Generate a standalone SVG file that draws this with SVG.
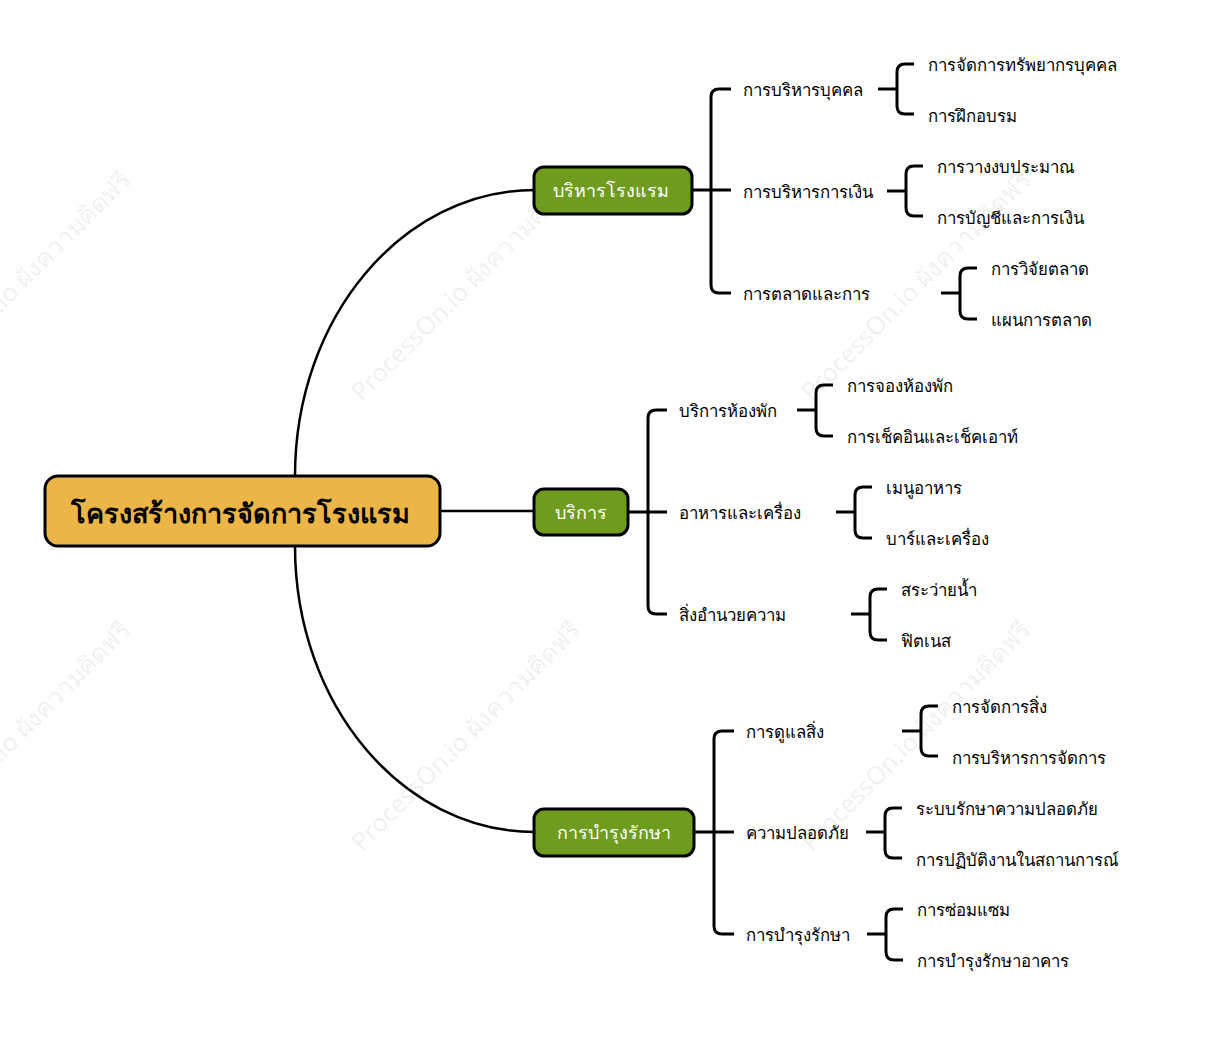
<svg xmlns="http://www.w3.org/2000/svg" width="1227" height="1038" viewBox="0 0 1227 1038">
<style>
.wm{font-family:"Noto Sans","DejaVu Sans",sans-serif;font-size:25px;fill:#000;fill-opacity:0.07;text-anchor:middle;dominant-baseline:central}
.c{fill:none;stroke:#000;stroke-width:3;stroke-linecap:butt;stroke-linejoin:round}
.cv{fill:none;stroke:#000;stroke-width:2.5}
.t{font-family:"Noto Sans","DejaVu Sans",sans-serif;font-size:16.8px;fill:#000;dominant-baseline:central}
.l1 rect{fill:#6f9b1e;stroke:#000;stroke-width:3}
.l1 text{font-family:"Noto Sans","DejaVu Sans",sans-serif;font-size:18px;fill:#fff;text-anchor:middle;dominant-baseline:central}
.root rect{fill:#ebb547;stroke:#000;stroke-width:3}
.root text{font-family:"Noto Sans","DejaVu Sans",sans-serif;font-size:27px;font-weight:bold;fill:#000;text-anchor:middle;dominant-baseline:central}
</style>
<rect width="1227" height="1038" fill="#fff"/>
<g id="watermarks">
<text class="wm" transform="translate(15,285) rotate(-45)">ProcessOn.io ผังความคิดฟรี</text>
<text class="wm" transform="translate(465,285) rotate(-45)">ProcessOn.io ผังความคิดฟรี</text>
<text class="wm" transform="translate(915,285) rotate(-45)">ProcessOn.io ผังความคิดฟรี</text>
<text class="wm" transform="translate(15,735) rotate(-45)">ProcessOn.io ผังความคิดฟรี</text>
<text class="wm" transform="translate(465,735) rotate(-45)">ProcessOn.io ผังความคิดฟรี</text>
<text class="wm" transform="translate(915,735) rotate(-45)">ProcessOn.io ผังความคิดฟรี</text>
</g>
<g id="connectors">
<path class="cv" d="M295,476 C295,318 402,190 535,190"/>
<path class="cv" d="M295,546 C295,704 402,832 535,832"/>
<path class="cv" d="M440,511 H535"/>
<path class="c" d="M692,190 H731"/>
<path class="c" d="M731,89 H719 Q711,89 711,97 V285 Q711,293 719,293 H731"/>
<path class="c" d="M878,89 H897"/>
<path class="c" d="M914,64 H905 Q897,64 897,72 V106 Q897,114 905,114 H914"/>
<path class="c" d="M887,191 H906"/>
<path class="c" d="M923,166 H914 Q906,166 906,174 V208 Q906,216 914,216 H923"/>
<path class="c" d="M941,293 H960"/>
<path class="c" d="M977,268 H968 Q960,268 960,276 V311 Q960,319 968,319 H977"/>
<path class="c" d="M628,512 H667"/>
<path class="c" d="M667,410 H656 Q648,410 648,418 V606 Q648,614 656,614 H667"/>
<path class="c" d="M797,410 H816"/>
<path class="c" d="M833,385 H824 Q816,385 816,393 V428 Q816,436 824,436 H833"/>
<path class="c" d="M836,512 H855"/>
<path class="c" d="M872,487 H863 Q855,487 855,495 V530 Q855,538 863,538 H872"/>
<path class="c" d="M851,614 H870"/>
<path class="c" d="M887,589 H878 Q870,589 870,597 V632 Q870,640 878,640 H887"/>
<path class="c" d="M694,832 H734"/>
<path class="c" d="M734,731 H722 Q714,731 714,739 V926 Q714,934 722,934 H734"/>
<path class="c" d="M902,731 H921"/>
<path class="c" d="M938,706 H929 Q921,706 921,714 V748 Q921,756 929,756 H938"/>
<path class="c" d="M866,832 H885"/>
<path class="c" d="M902,808 H893 Q885,808 885,816 V850 Q885,858 893,858 H902"/>
<path class="c" d="M867,934 H886"/>
<path class="c" d="M903,909 H894 Q886,909 886,917 V952 Q886,960 894,960 H903"/>
</g>
<g id="root" class="root"><rect x="45" y="476" width="395" height="70" rx="13"/><text x="240" y="512">โครงสร้างการจัดการโรงแรม</text></g>
<g id="n-hotel" class="l1"><rect x="534" y="167" width="158" height="47" rx="10"/><text x="611" y="190">บริหารโรงแรม</text></g>
<g id="n-service" class="l1"><rect x="534" y="489" width="94" height="46" rx="10"/><text x="581" y="512">บริการ</text></g>
<g id="n-maint" class="l1"><rect x="534" y="809" width="160" height="47" rx="10"/><text x="614" y="832">การบำรุงรักษา</text></g>
<g id="n-a1"><text class="t" x="743" y="89">การบริหารบุคคล</text></g>
<g id="n-a1a"><text class="t" x="928" y="64">การจัดการทรัพยากรบุคคล</text></g>
<g id="n-a1b"><text class="t" x="928" y="115">การฝึกอบรม</text></g>
<g id="n-a2"><text class="t" x="743" y="191">การบริหารการเงิน</text></g>
<g id="n-a2a"><text class="t" x="937" y="166">การวางงบประมาณ</text></g>
<g id="n-a2b"><text class="t" x="937" y="217">การบัญชีและการเงิน</text></g>
<g id="n-a3"><text class="t" x="743" y="293">การตลาดและการ</text></g>
<g id="n-a3a"><text class="t" x="991" y="268">การวิจัยตลาด</text></g>
<g id="n-a3b"><text class="t" x="991" y="319">แผนการตลาด</text></g>
<g id="n-b1"><text class="t" x="679" y="410">บริการห้องพัก</text></g>
<g id="n-b1a"><text class="t" x="847" y="385">การจองห้องพัก</text></g>
<g id="n-b1b"><text class="t" x="847" y="436">การเช็คอินและเช็คเอาท์</text></g>
<g id="n-b2"><text class="t" x="679" y="512">อาหารและเครื่อง</text></g>
<g id="n-b2a"><text class="t" x="886" y="487">เมนูอาหาร</text></g>
<g id="n-b2b"><text class="t" x="886" y="538">บาร์และเครื่อง</text></g>
<g id="n-b3"><text class="t" x="679" y="614">สิ่งอำนวยความ</text></g>
<g id="n-b3a"><text class="t" x="901" y="589">สระว่ายน้ำ</text></g>
<g id="n-b3b"><text class="t" x="901" y="640">ฟิตเนส</text></g>
<g id="n-c1"><text class="t" x="746" y="731">การดูแลสิ่ง</text></g>
<g id="n-c1a"><text class="t" x="952" y="706">การจัดการสิ่ง</text></g>
<g id="n-c1b"><text class="t" x="952" y="757">การบริหารการจัดการ</text></g>
<g id="n-c2"><text class="t" x="746" y="832">ความปลอดภัย</text></g>
<g id="n-c2a"><text class="t" x="916" y="808">ระบบรักษาความปลอดภัย</text></g>
<g id="n-c2b"><text class="t" x="916" y="859">การปฏิบัติงานในสถานการณ์</text></g>
<g id="n-c3"><text class="t" x="746" y="934">การบำรุงรักษา</text></g>
<g id="n-c3a"><text class="t" x="917" y="909">การซ่อมแซม</text></g>
<g id="n-c3b"><text class="t" x="917" y="960">การบำรุงรักษาอาคาร</text></g>
</svg>
